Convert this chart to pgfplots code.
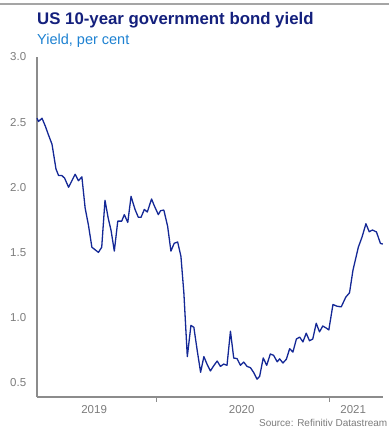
\documentclass[border=0pt]{standalone}
\usepackage{pgfplots}
\pgfplotsset{compat=1.18}
\usepackage{fontspec}
\setmainfont{Liberation Sans}
\definecolor{linecol}{RGB}{20,40,150}
\definecolor{titlecol}{RGB}{20,32,125}
\definecolor{subcol}{RGB}{30,130,210}
\definecolor{axgray}{RGB}{140,140,140}
\definecolor{txtgray}{RGB}{125,125,125}
\begin{document}
\begin{tikzpicture}[x=1pt,y=1pt]
\useasboundingbox (0,0) rectangle (389,-427);
\fill[white] (0,0) rectangle (389,-427);
\draw[color={rgb,255:red,165;green,165;blue,165}, line width=1.6pt] (0,-4) -- (389,-4);
\node[anchor=base west, inner sep=0, font=\fontsize{16.8}{18}\selectfont\bfseries, text=titlecol] at (37,-24.3) {US 10-year government bond yield};
\node[anchor=base west, inner sep=0, font=\fontsize{14.5}{16}\selectfont, text=subcol] at (37,-44.3) {Yield, per cent};
\node[anchor=base east, inner sep=0, font=\fontsize{10}{12}\selectfont, text=txtgray] at (387.5,-426) {Source: Refinitiv Datastream};
\begin{axis}[
  at={(37pt,-397pt)}, anchor=south west,
  scale only axis, width=346pt, height=340pt,
  xmin=2019.305, xmax=2021.31, ymin=0.39, ymax=3.0,
  axis lines*=left,
  axis line style={axgray, line width=1.3pt},
  tick align=outside,
  ytick={0.5,1.0,1.5,2.0,2.5,3.0},
  ytick style={draw=none},
  xtick={2019.636,2020.491,2021.137},
  xticklabels={2019,2020,2021},
  major x tick style={draw=none},
  minor xtick={2020,2021},
  minor x tick style={axgray, line width=1pt},
  minor tick length=4.5pt,
  yticklabel style={/pgf/number format/.cd,fixed,fixed zerofill,precision=1,/pgf/number format/assume math mode=true, /tikz/.cd, font=\fontsize{11.5}{13}\selectfont, text=txtgray, xshift=-3pt},
  xticklabel style={font=\fontsize{11.5}{13}\selectfont, text=txtgray, yshift=-1pt},
  clip=false,
]
\addplot[linecol, line width=1.3pt, line join=round] coordinates {
(2019.305,2.53) (2019.314,2.505) (2019.334,2.53) (2019.353,2.47) (2019.372,2.40)
(2019.392,2.33) (2019.415,2.14) (2019.430,2.09) (2019.449,2.09) (2019.465,2.07)
(2019.488,2.00) (2019.507,2.05) (2019.526,2.10) (2019.545,2.05) (2019.565,2.08)
(2019.584,1.84) (2019.603,1.71) (2019.623,1.54) (2019.642,1.52) (2019.661,1.50)
(2019.680,1.54) (2019.699,1.90) (2019.718,1.76) (2019.734,1.67) (2019.753,1.51)
(2019.773,1.74) (2019.796,1.74) (2019.811,1.79) (2019.831,1.73) (2019.850,1.93)
(2019.873,1.83) (2019.892,1.77) (2019.908,1.77) (2019.927,1.83) (2019.944,1.81)
(2019.969,1.91) (2019.984,1.86) (2020.008,1.79) (2020.021,1.82) (2020.040,1.825)
(2020.062,1.70) (2020.081,1.51) (2020.100,1.57) (2020.120,1.58) (2020.139,1.47)
(2020.156,1.19) (2020.176,0.70) (2020.197,0.94) (2020.214,0.925) (2020.233,0.75)
(2020.253,0.58) (2020.272,0.70) (2020.291,0.64) (2020.310,0.59) (2020.329,0.63)
(2020.349,0.666) (2020.368,0.625) (2020.387,0.643) (2020.406,0.633) (2020.426,0.895)
(2020.445,0.689) (2020.464,0.685) (2020.484,0.633) (2020.503,0.658) (2020.522,0.625)
(2020.542,0.615) (2020.561,0.577) (2020.580,0.527) (2020.595,0.548) (2020.616,0.69)
(2020.636,0.633) (2020.657,0.72) (2020.676,0.71) (2020.697,0.66) (2020.711,0.683)
(2020.730,0.651) (2020.750,0.68) (2020.769,0.761) (2020.788,0.735) (2020.808,0.835)
(2020.827,0.85) (2020.846,0.813) (2020.865,0.88) (2020.884,0.822) (2020.903,0.835)
(2020.923,0.956) (2020.942,0.89) (2020.961,0.935) (2020.980,0.92) (2020.996,0.905)
(2021.020,1.10) (2021.043,1.087) (2021.068,1.082) (2021.094,1.156) (2021.116,1.19)
(2021.136,1.364) (2021.153,1.46) (2021.167,1.54) (2021.189,1.62) (2021.211,1.72)
(2021.230,1.659) (2021.249,1.672) (2021.272,1.657) (2021.295,1.569) (2021.309,1.564)
};
\end{axis}
\end{tikzpicture}
\end{document}
